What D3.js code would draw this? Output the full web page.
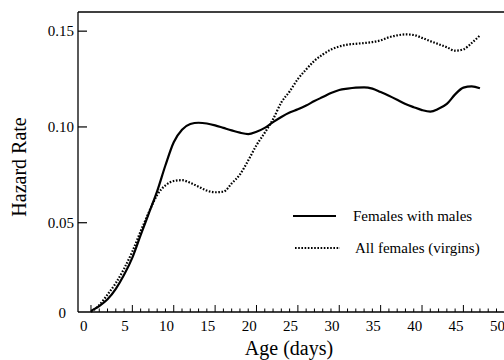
<!DOCTYPE html>
<html><head><meta charset="utf-8">
<script src="https://cdn.jsdelivr.net/npm/d3@7"></script>
<style>body{margin:0;background:#fff}svg{display:block}</style>
</head><body><svg id="c" width="504" height="360" font-family="Liberation Serif, Times New Roman, serif"></svg>
<script>
const days = d3.range(1, 49);
const withMales = [0.004,0.0065,0.010,0.0155,0.0228,0.0318,0.0435,0.055,0.0665,0.080,0.092,0.0985,0.1015,0.1022,0.1018,0.1008,0.0995,0.0982,0.0970,0.0963,0.0975,0.0995,0.1025,0.1052,0.1075,0.1092,0.1112,0.1135,0.1156,0.1177,0.1193,0.1200,0.1205,0.1207,0.1200,0.1182,0.1163,0.1142,0.1120,0.1103,0.1088,0.1080,0.1095,0.1120,0.1170,0.1205,0.1212,0.1202];
const allFemales = [0.0035,0.007,0.0125,0.0185,0.026,0.035,0.0455,0.0555,0.0645,0.0695,0.0718,0.0722,0.0708,0.0688,0.0668,0.0659,0.0662,0.0705,0.0752,0.0825,0.0905,0.0970,0.1040,0.1128,0.1185,0.1250,0.1300,0.1345,0.1378,0.1404,0.1420,0.1430,0.1434,0.1438,0.1443,0.1452,0.1468,0.1478,0.1483,0.1480,0.1465,0.1448,0.1432,0.1416,0.1398,0.1405,0.1438,0.1478];
const xTickLabels = [0,5,10,15,20,25,30,35,40,45,50];
const yTickLabels = [0.05,0.10,0.15];
const seriesNames = ["Females with males","All females (virgins)"];

const svg = d3.select("#c");
const F = "Liberation Serif";
const L = 78, R = 504, T = 12, B = 312;
const x = d3.scaleLinear().domain([0,50]).range([82.7,496.5]);
const y = d3.scaleLinear().domain([0.0034,0.16]).range([B,T]);

svg.append("line").attr("x1",L).attr("x2",R).attr("y1",T).attr("y2",T).attr("stroke","#000").attr("stroke-width",1.3);
svg.append("line").attr("x1",L).attr("x2",L).attr("y1",T).attr("y2",B).attr("stroke","#000").attr("stroke-width",1.3);
svg.append("line").attr("x1",L).attr("x2",R).attr("y1",B).attr("y2",B).attr("stroke","#000").attr("stroke-width",1.3);

const tickDays = d3.range(1,51);
svg.append("g").selectAll("line").data(tickDays).join("line")
  .attr("x1",d=>x(d)).attr("x2",d=>x(d))
  .attr("y1",B).attr("y2",d=>(d-1)%5===0?B-7:B-3.5)
  .attr("stroke","#000").attr("stroke-width",1);
svg.append("g").selectAll("text").data(xTickLabels).join("text")
  .attr("x",d=>x(d)+1).attr("y",331).attr("text-anchor","middle")
  .attr("font-family",F).attr("font-size",15).text(d=>d);

svg.append("g").selectAll("line").data(yTickLabels).join("line")
  .attr("x1",L).attr("x2",L+9).attr("y1",d=>y(d)).attr("y2",d=>y(d))
  .attr("stroke","#000").attr("stroke-width",1.2);
svg.append("g").selectAll("text").data(yTickLabels).join("text")
  .attr("x",74).attr("y",d=>y(d)+5).attr("text-anchor","end")
  .attr("font-family",F).attr("font-size",15).text(d=>d.toFixed(2));
svg.append("text").attr("x",66).attr("y",B+6).attr("text-anchor","end").attr("font-family",F).attr("font-size",15).text("0");

svg.append("text").attr("transform","translate(26,167) rotate(-90)").attr("text-anchor","middle")
  .attr("font-family",F).attr("font-size",20).text("Hazard Rate");
svg.append("text").attr("x",289).attr("y",355).attr("text-anchor","middle")
  .attr("font-family",F).attr("font-size",20).text("Age (days)");

const line = vals => d3.line().x((d,i)=>x(days[i])).y(d=>y(d)).curve(d3.curveMonotoneX)(vals);
svg.append("path").attr("d",line(withMales)).attr("fill","none").attr("stroke","#000").attr("stroke-width",2.2);
svg.append("path").attr("d",line(allFemales)).attr("fill","none").attr("stroke","#000").attr("stroke-width",2.2).attr("stroke-dasharray","1.6,1.6");

const lg = svg.append("g");
lg.append("line").attr("x1",293).attr("x2",336).attr("y1",216).attr("y2",216).attr("stroke","#000").attr("stroke-width",2.2);
lg.append("line").attr("x1",295).attr("x2",340).attr("y1",248).attr("y2",248).attr("stroke","#000").attr("stroke-width",2.2).attr("stroke-dasharray","1.6,1.6");
lg.append("text").attr("x",353).attr("y",221).attr("font-family",F).attr("font-size",15).text(seriesNames[0]);
lg.append("text").attr("x",355).attr("y",253).attr("font-family",F).attr("font-size",15).text(seriesNames[1]);
</script></body></html>
